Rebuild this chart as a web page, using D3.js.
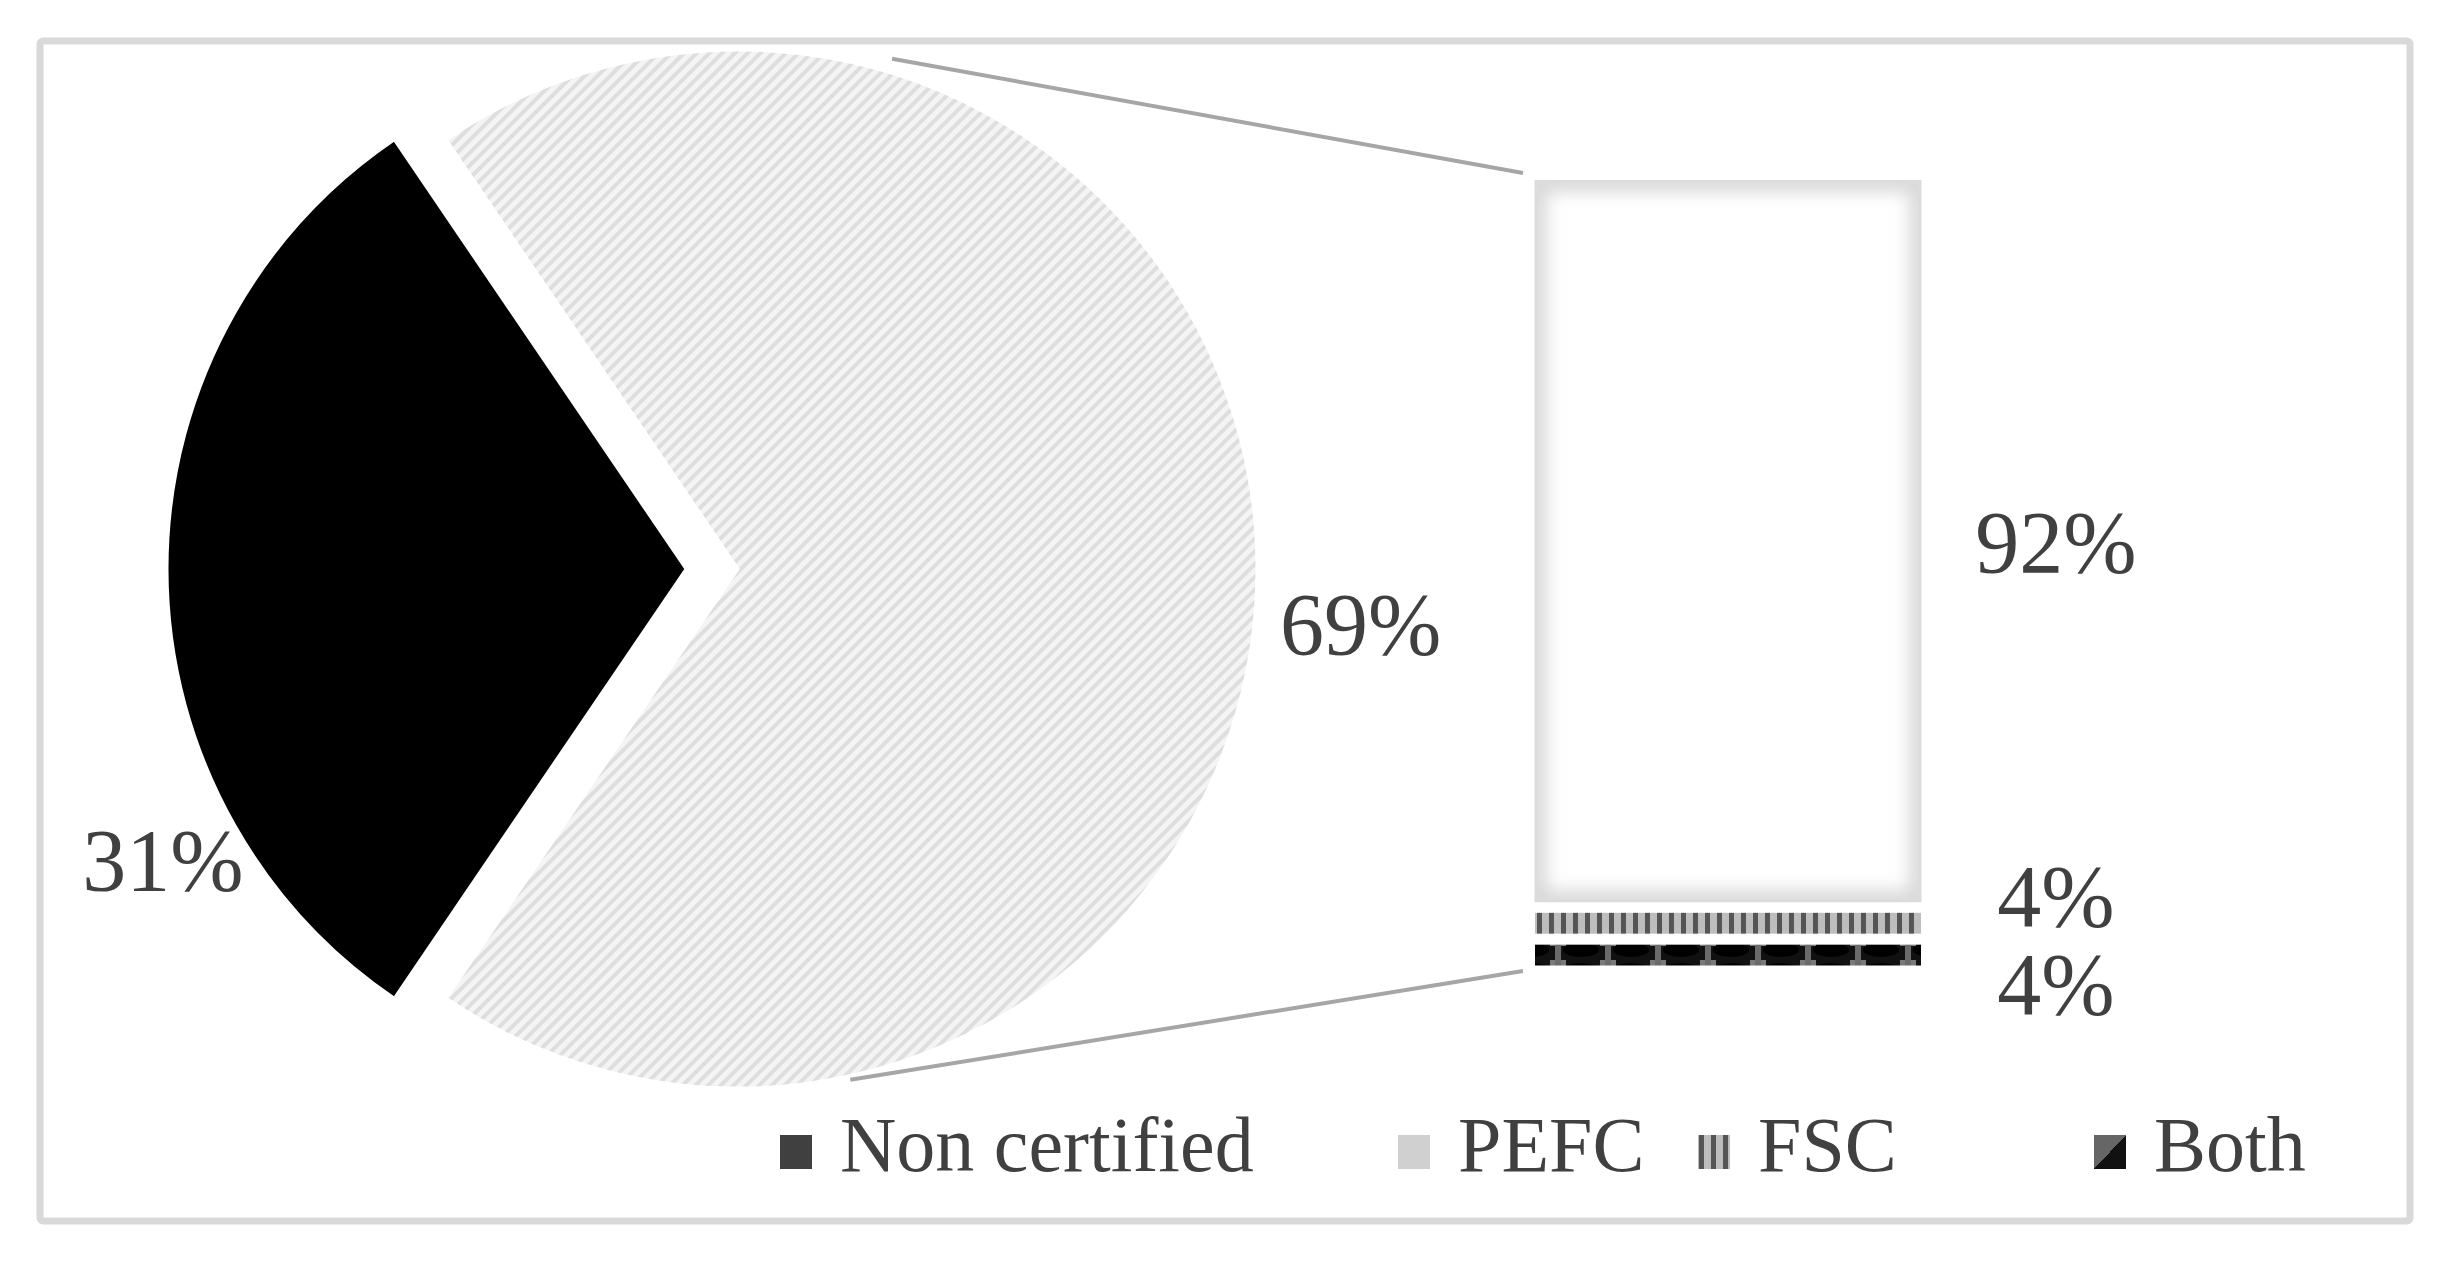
<!DOCTYPE html>
<html>
<head>
<meta charset="utf-8">
<script src="https://cdn.jsdelivr.net/npm/d3@7/dist/d3.min.js"></script>
<style>
  body { margin: 0; background: #fff; }
  text { font-family: "Liberation Serif", "Times New Roman", serif; fill: #404040; }
</style>
</head>
<body>
<div id="chart"></div>
<script>
// data
var pieCategories = ["Non certified", "Certified"];
var pieValues = [31, 69];
var barCategories = ["PEFC", "FSC", "Both"];
var barValues = [92, 4, 4];
var legendLabels = ["Non certified", "PEFC", "FSC", "Both"];

var svg = d3.select("#chart")
    .append("svg")
    .attr("width", 2455)
    .attr("height", 1262);

var defs = svg.append("defs");

// light diagonal hatch for the certified slice
var hatch = defs.append("pattern")
    .attr("id", "hatch")
    .attr("patternUnits", "userSpaceOnUse")
    .attr("width", 9).attr("height", 9)
    .attr("patternTransform", "rotate(45)");
hatch.append("rect").attr("width", 9).attr("height", 9).attr("fill", "#f4f4f4");
hatch.append("rect").attr("width", 4).attr("height", 9).attr("fill", "#dedede");

// vertical stripes for FSC
var stripes = defs.append("pattern")
    .attr("id", "stripes")
    .attr("patternUnits", "userSpaceOnUse")
    .attr("width", 12).attr("height", 12);
stripes.append("rect").attr("width", 12).attr("height", 12).attr("fill", "#bdbdbd");
stripes.append("rect").attr("x", 1).attr("width", 5).attr("height", 12).attr("fill", "#555");

// dark pattern for Both
var both = defs.append("pattern")
    .attr("id", "both")
    .attr("patternUnits", "userSpaceOnUse")
    .attr("width", 50).attr("height", 20);
both.append("rect").attr("width", 50).attr("height", 20).attr("fill", "#111");
both.append("rect").attr("x", 0).attr("y", 0).attr("width", 16).attr("height", 6).attr("fill", "#7a7a7a");
both.append("rect").attr("x", 5).attr("y", 0).attr("width", 6).attr("height", 20).attr("fill", "#6a6a6a");
both.append("ellipse").attr("cx", 31).attr("cy", 10).attr("rx", 18).attr("ry", 7).attr("fill", "#000");

// legend swatch for Both
var bothKey = defs.append("linearGradient")
    .attr("id", "bothKey")
    .attr("x1", 0).attr("y1", 0).attr("x2", 1).attr("y2", 1);
bothKey.append("stop").attr("offset", "50%").attr("stop-color", "#666");
bothKey.append("stop").attr("offset", "50%").attr("stop-color", "#111");

// soft grey inner edge on the PEFC block
var glow = defs.append("filter").attr("id", "edgeGlow")
    .attr("x", "-10%").attr("y", "-10%").attr("width", "120%").attr("height", "120%");
glow.append("feGaussianBlur").attr("stdDeviation", 9);

// outer frame
svg.append("rect")
    .attr("x", 40).attr("y", 41)
    .attr("width", 2370).attr("height", 1180)
    .attr("rx", 3)
    .attr("fill", "none")
    .attr("stroke", "#d9d9d9")
    .attr("stroke-width", 7);

// ---- pie ----
var cx = 738, cy = 569, radius = 519, explode = 52;
var total = d3.sum(pieValues);
// the split-off slice is centred on the right, facing the bar
var start = Math.PI / 2 + Math.PI * pieValues[1] / total;

var pie = d3.pie()
    .sort(null)
    .startAngle(start)
    .endAngle(start + 2 * Math.PI);

var arc = d3.arc()
    .innerRadius(0)
    .outerRadius(radius);

var pieFills = ["#000", "url(#hatch)"];
var arcs = pie(pieValues);

var pieG = svg.append("g").attr("transform", "translate(" + cx + "," + cy + ")");

pieG.selectAll(".slice")
    .data(arcs)
  .enter().append("path")
    .attr("class", "slice")
    .attr("transform", function(d, i) {
      if (i !== 0) return null;
      var a = (d.startAngle + d.endAngle) / 2;
      return "translate(" + (Math.sin(a) * explode) + "," + (-Math.cos(a) * explode) + ")";
    })
    .attr("d", arc)
    .attr("fill", function(d, i) { return pieFills[i]; })
    .attr("stroke", "#fff")
    .attr("stroke-width", 3);

// data labels, nudged around the slice like excel's best fit
var labelShift = [-29, 5];
var labelRadius = [598, 625];
pieG.selectAll(".pieLabel")
    .data(arcs)
  .enter().append("text")
    .attr("class", "pieLabel")
    .attr("transform", function(d, i) {
      var a = (d.startAngle + d.endAngle) / 2 + labelShift[i] * Math.PI / 180;
      var ox = i === 0 ? -explode : 0;
      return "translate(" + (ox + Math.sin(a) * labelRadius[i]) + "," + (-Math.cos(a) * labelRadius[i]) + ")";
    })
    .attr("text-anchor", "middle")
    .attr("dy", "0.35em")
    .style("font-size", "88px")
    .text(function(d) { return d.data + "%"; });

// ---- bar of pie ----
var barX0 = 1535, barX1 = 1921, gap = 11;
var y = d3.scaleLinear().domain([0, d3.sum(barValues)]).range([175, 971]);

var cum = 0;
var segs = barValues.map(function(v, i) {
  var s = {key: barCategories[i], value: v, y0: cum, y1: cum + v};
  cum += v;
  return s;
});

var barFills = ["#fff", "url(#stripes)", "url(#both)"];
var barG = svg.append("g");

barG.selectAll(".seg")
    .data(segs)
  .enter().append("rect")
    .attr("class", "seg")
    .attr("x", barX0)
    .attr("y", function(d) { return y(d.y0) + gap / 2; })
    .attr("width", barX1 - barX0)
    .attr("height", function(d) { return y(d.y1) - y(d.y0) - gap; })
    .attr("fill", function(d, i) { return barFills[i]; });

// grey shading round the edge of the white block
var first = segs[0];
defs.append("clipPath").attr("id", "pefcClip")
  .append("rect")
    .attr("x", barX0).attr("y", y(first.y0) + gap / 2)
    .attr("width", barX1 - barX0)
    .attr("height", y(first.y1) - y(first.y0) - gap);

barG.append("rect")
    .attr("clip-path", "url(#pefcClip)")
    .attr("x", barX0).attr("y", y(first.y0) + gap / 2)
    .attr("width", barX1 - barX0)
    .attr("height", y(first.y1) - y(first.y0) - gap)
    .attr("fill", "none")
    .attr("stroke", "#d6d6d6")
    .attr("stroke-width", 22)
    .attr("filter", "url(#edgeGlow)");

barG.append("rect")
    .attr("x", barX0 + 1).attr("y", y(first.y0) + gap / 2 + 1)
    .attr("width", barX1 - barX0 - 2)
    .attr("height", y(first.y1) - y(first.y0) - gap - 2)
    .attr("fill", "none")
    .attr("stroke", "#dcdcdc")
    .attr("stroke-width", 3);

// labels beside the bar, pushed apart when they collide
var minSpace = 88;
var labelY = segs.map(function(d) { return (y(d.y0) + y(d.y1)) / 2; });
for (var k = 0; k < 5; k++) {
  for (var j = 1; j < labelY.length; j++) {
    var overlap = minSpace - (labelY[j] - labelY[j - 1]);
    if (overlap > 0) {
      labelY[j - 1] -= overlap / 2;
      labelY[j] += overlap / 2;
    }
  }
}

barG.selectAll(".barLabel")
    .data(segs)
  .enter().append("text")
    .attr("class", "barLabel")
    .attr("x", 2056)
    .attr("y", function(d, i) { return labelY[i]; })
    .attr("dy", "0.35em")
    .attr("text-anchor", "middle")
    .style("font-size", "88px")
    .text(function(d) { return d.value + "%"; });

// connector lines from the pie to the bar
var connAngles = [16.8, 167.6];
var connR = [radius + 14, radius + 4];
var barEnds = [[barX0 - 12, y(0) - 2], [barX0 - 12, y(d3.sum(barValues))]];
svg.selectAll(".conn")
    .data(connAngles)
  .enter().append("line")
    .attr("class", "conn")
    .attr("x1", function(d, i) { return cx + Math.sin(d * Math.PI / 180) * connR[i]; })
    .attr("y1", function(d, i) { return cy - Math.cos(d * Math.PI / 180) * connR[i]; })
    .attr("x2", function(d, i) { return barEnds[i][0]; })
    .attr("y2", function(d, i) { return barEnds[i][1]; })
    .attr("stroke", "#a6a6a6")
    .attr("stroke-width", 4);

// ---- legend ----
var legendX = [780, 1398, 1698, 2094];
var legendFills = ["#404040", "#d0d0d0", "url(#stripes)", "url(#bothKey)"];
var legend = svg.append("g").attr("transform", "translate(0,1152)");

var item = legend.selectAll(".key")
    .data(legendLabels)
  .enter().append("g")
    .attr("class", "key")
    .attr("transform", function(d, i) { return "translate(" + legendX[i] + ",0)"; });

item.append("rect")
    .attr("x", 0).attr("y", -17)
    .attr("width", 32).attr("height", 34)
    .attr("fill", function(d, i) { return legendFills[i]; });

item.append("text")
    .attr("x", 60)
    .attr("y", 19)
    .style("font-size", "78px")
    .text(function(d) { return d; });
</script>
</body>
</html>
